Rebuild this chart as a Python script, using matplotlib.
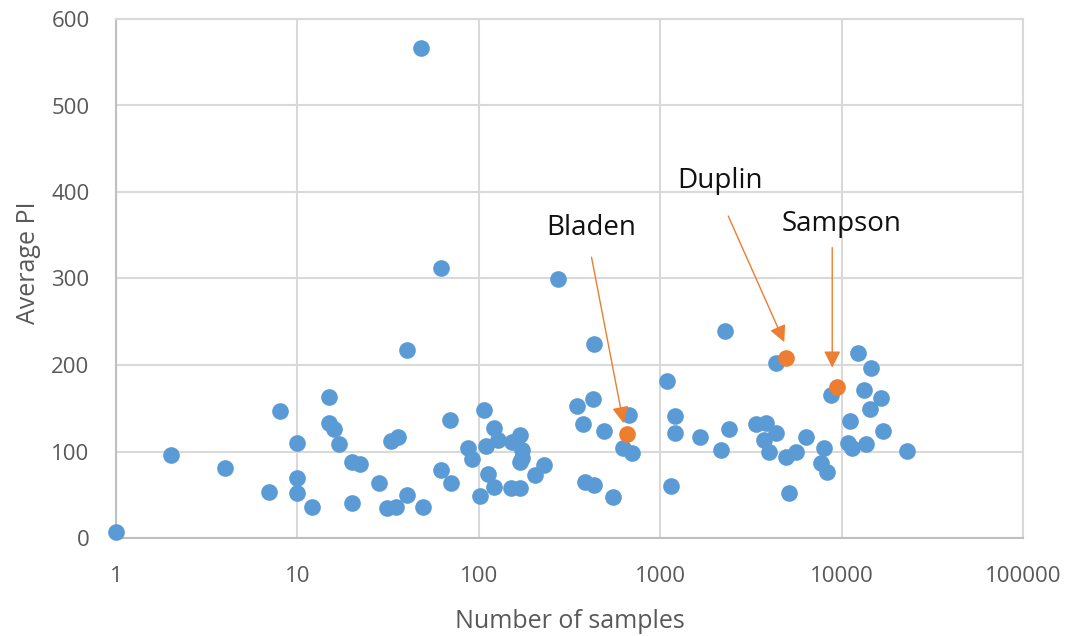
import matplotlib
matplotlib.use("Agg")
import matplotlib.pyplot as plt
from matplotlib.text import OffsetFrom

plt.rcParams['font.family'] = ['Open Sans', 'DejaVu Sans']

# ---- data ----
samples = [1, 2, 4, 7, 8, 10, 10, 10, 12, 15, 15, 16, 17, 20, 22, 20, 28, 31, 35, 33,
           36, 40, 40, 48, 49, 62, 62, 69, 70, 87, 92, 101, 107, 110, 112, 122, 127, 122,
           150, 168, 153, 168, 174, 174, 168, 203, 230, 272, 346, 373, 383, 424, 434, 434,
           493, 546, 627, 676, 703, 1096, 1153, 1213, 1213, 1663, 2173, 2286, 2404, 3388,
           3846, 3750, 3990, 4365, 4365, 4955, 5140, 5623, 6384, 7725, 8018, 8340, 8770,
           10870, 11140, 11430, 12340, 13310, 13650, 14370, 14550, 16520, 16950, 22960]
avg_pi = [7, 96, 81, 53, 147, 110, 69, 52, 36, 163, 133, 126, 109, 88, 86, 40, 64, 35, 36, 112,
          117, 217, 50, 567, 36, 312, 79, 136, 64, 104, 91, 49, 148, 106, 74, 127, 113, 59,
          58, 58, 111, 119, 102, 92, 88, 73, 84, 299, 153, 132, 65, 161, 224, 61,
          124, 47, 104, 142, 98, 181, 60, 141, 121, 117, 102, 239, 126, 132,
          133, 113, 99, 121, 202, 94, 52, 99, 117, 87, 104, 76, 165,
          110, 135, 104, 214, 171, 109, 149, 196, 162, 124, 101]

highlight_names = ["Bladen", "Duplin", "Sampson"]
highlight_samples = [652, 4955, 9460]
highlight_pi = [120, 208, 175]

x_ticks = [1, 10, 100, 1000, 10000, 100000]
x_tick_labels = ["1", "10", "100", "1000", "10000", "100000"]
y_ticks = [0, 100, 200, 300, 400, 500, 600]

BLUE = "#5B9BD5"
ORANGE = "#ED7D31"
GRID = "#D9D9D9"
AXIS = "#BFBFBF"
TXT = "#595959"

fig = plt.figure(figsize=(10.71, 6.36), dpi=100)
ax = fig.add_axes([116 / 1071, (636 - 538) / 636, (1023 - 116) / 1071, (538 - 19) / 636])

ax.scatter(samples, avg_pi, s=144, color=BLUE, linewidths=0, zorder=3, clip_on=False)
ax.scatter(highlight_samples, highlight_pi, s=144, color=ORANGE, linewidths=0, zorder=4,
           clip_on=False)

ax.set_xscale("log")
ax.set_xlim(1, 100000)
ax.set_ylim(0, 600)
ax.set_xticks(x_ticks)
ax.set_xticklabels(x_tick_labels)
ax.xaxis.set_minor_locator(matplotlib.ticker.NullLocator())
ax.set_yticks(y_ticks)

ax.grid(True, color=GRID, linewidth=1.5, zorder=0)
ax.set_axisbelow(True)
for side in ["top", "right"]:
    ax.spines[side].set_color(GRID)
    ax.spines[side].set_linewidth(1.5)
for side in ["left", "bottom"]:
    ax.spines[side].set_color(AXIS)
    ax.spines[side].set_linewidth(1.5)

ax.tick_params(axis="both", length=0, labelsize=16, labelcolor=TXT)
ax.tick_params(axis="y", pad=19)
ax.tick_params(axis="x", pad=20)

ax.set_xlabel("Number of samples", fontsize=18, color=TXT, labelpad=16)
ax.set_ylabel("Average PI", fontsize=18, color=TXT, labelpad=10)
ax.yaxis.set_label_coords(-0.083, 0.53)

# annotation layout (pixel offsets from each highlighted point)
text_off = [(-35, 206), (-66, 177), (4, 163)]
arrow_start = [(-35, 177), (-58, 142), (-5, 139)]
arrow_tip = [(-3, 11), (-2, 16), (-5, 19)]

for name, xv, yv, t, s0, s1 in zip(highlight_names, highlight_samples, highlight_pi,
                                   text_off, arrow_start, arrow_tip):
    ref = OffsetFrom(ax.transData, (xv, yv), unit="pixels")
    ax.annotate(name, xy=t, xycoords=ref, ha="center", va="center",
                fontsize=20, color="#111111")
    ax.annotate("", xy=s1, xycoords=ref, xytext=s0, textcoords=ref,
                arrowprops=dict(arrowstyle="-|>,head_length=1.0,head_width=0.5",
                                mutation_scale=10, color=ORANGE, lw=1.0,
                                shrinkA=0, shrinkB=0), zorder=5)

fig.savefig("out.png", dpi=100, facecolor="white")
